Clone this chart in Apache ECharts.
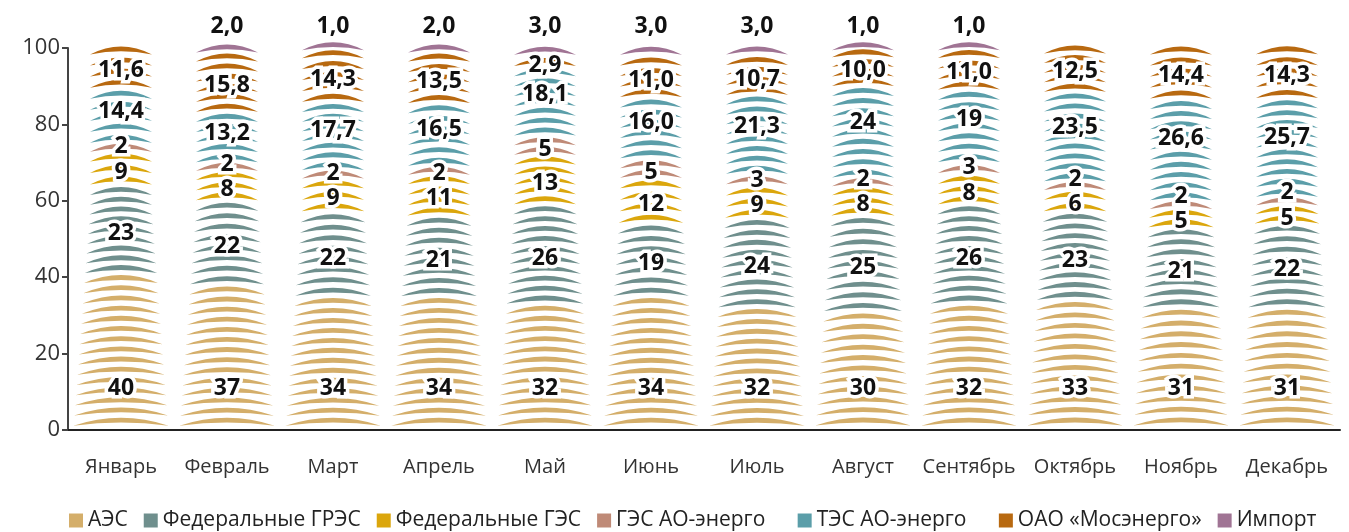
<!DOCTYPE html>
<html>
<head>
<meta charset="utf-8">
<script src="https://cdn.jsdelivr.net/npm/echarts@6/dist/echarts.min.js"></script>
<style>
  html, body { margin: 0; padding: 0; background: #fff; }
  #main { width: 1349px; height: 532px; }
</style>
</head>
<body>
<div id="main"></div>
<script>
const months = ['Январь', 'Февраль', 'Март', 'Апрель', 'Май', 'Июнь', 'Июль', 'Август', 'Сентябрь', 'Октябрь', 'Ноябрь', 'Декабрь'];
const seriesNames = ['АЭС', 'Федеральные ГРЭС', 'Федеральные ГЭС', 'ГЭС АО-энерго', 'ТЭС АО-энерго', 'ОАО «Мосэнерго»', 'Импорт'];
const colors = ['#d4ae6a', '#6f8f8d', '#dba60c', '#bf8a77', '#5b9ea9', '#b86910', '#a07494'];

// values as printed on the chart
const aes = [40, 37, 34, 34, 32, 34, 32, 30, 32, 33, 31, 31];
const fedGres = [23, 22, 22, 21, 26, 19, 24, 25, 26, 23, 21, 22];
const fedGes = [9, 8, 9, 11, 13, 12, 9, 8, 8, 6, 5, 5];
const gesAo = [2, 2, 2, 2, 5, 5, 3, 2, 3, 2, 2, 2];
const tesAo = ['14,4', '13,2', '17,7', '16,5', '18,1', '16,0', '21,3', '24', '19', '23,5', '26,6', '25,7'];
const mosenergo = ['11,6', '15,8', '14,3', '13,5', '2,9', '11,0', '10,7', '10,0', '11,0', '12,5', '14,4', '14,3'];
const importE = ['', '2,0', '1,0', '2,0', '3,0', '3,0', '3,0', '1,0', '1,0', '', '', ''];

const FONT = '"Open Sans", "Noto Sans", sans-serif';

const toNum = v => (v === '' || v == null) ? 0 : parseFloat(String(v).replace(',', '.'));
const toText = v => (v === '' || v == null) ? '' : String(v);

const raw = [aes, fedGres, fedGes, gesAo, tesAo, mosenergo, importE];
const vals = raw.map(arr => arr.map(toNum));
const texts = raw.map(arr => arr.map(toText));

// stacked bounds, scaled so every month fills 0..100
const bounds = vals.map(() => []);
months.forEach((m, i) => {
    let total = 0;
    vals.forEach(a => { total += a[i]; });
    let acc = 0;
    vals.forEach((a, s) => {
        const lo = acc * 100 / total;
        acc += a[i];
        bounds[s][i] = [lo, acc * 100 / total];
    });
});

// label positions (value units), pushed up so they don't collide
const labelPos = vals.map(() => []);
months.forEach((m, i) => {
    let prev = -100;
    for (let s = 0; s < 6; s++) {
        const [lo, hi] = bounds[s][i];
        if (hi - lo <= 0) { labelPos[s][i] = null; continue; }
        let v = (lo + hi) / 2;
        if (s === 0) v = Math.min(v, 11);
        if (s === 4) v += 0.15 * (hi - lo);
        v = Math.max(v, prev + 6.6);
        labelPos[s][i] = v;
        prev = v;
    }
});

// each segment is a column of thin arcs, narrowing toward the top
function arcRenderer(s) {
    return function (params, api) {
        const i = api.value(0);
        const [lo, hi] = bounds[s][i];
        if (hi - lo <= 0) return;
        const zero = api.coord([i, 0]);
        const cx = zero[0];
        const y0 = api.coord([i, lo])[1];
        const y1 = api.coord([i, hi])[1];
        const k = api.size([1, 0])[0] / 106;
        const unitPx = (zero[1] - api.coord([i, 100])[1]) / 100;
        const step = 2.7 * unitPx;
        const L = y0 - y1;
        const n = Math.max(1, Math.round(L / step));
        const sp = L / n;
        const sag = 8, thick = 4.8;
        const children = [];
        for (let j = 0; j < n; j++) {
            const b = y0 - j * sp - 0.42 * sp;
            const v = (zero[1] - b) / unitPx;
            const w = Math.max(62, 96 - 0.58 * v) * k;
            const x0 = cx - w / 2, x1 = cx + w / 2;
            const d = 'M' + x0 + ',' + b +
                ' Q' + cx + ',' + (b - 2 * sag) + ' ' + x1 + ',' + b +
                ' Q' + cx + ',' + (b - 2 * sag + 2 * thick) + ' ' + x0 + ',' + b + ' Z';
            children.push({
                type: 'path',
                shape: { pathData: d },
                style: { fill: colors[s] }
            });
        }
        return { type: 'group', children: children };
    };
}

function labelRenderer(params, api) {
    const i = api.value(0);
    const children = [];
    for (let s = 0; s < 7; s++) {
        const t = texts[s][i];
        if (!t) continue;
        let y;
        if (s === 6) {
            y = api.coord([i, 100])[1] - 22;
        } else {
            y = api.coord([i, labelPos[s][i]])[1];
        }
        const x = api.coord([i, 0])[0];
        children.push({
            type: 'text',
            style: {
                text: t,
                x: x,
                y: y,
                align: 'center',
                verticalAlign: 'middle',
                font: 'bold 23px ' + FONT,
                fill: '#111',
                stroke: '#fff',
                lineWidth: 7,
                lineJoin: 'round'
            }
        });
    }
    return { type: 'group', children: children };
}

const chart = echarts.init(document.getElementById('main'));

const series = seriesNames.map((name, s) => ({
    name: name,
    type: 'custom',
    silent: true,
    itemStyle: { color: colors[s] },
    renderItem: arcRenderer(s),
    data: months.map((m, i) => [i, vals[s][i]])
}));

series.push({
    type: 'custom',
    silent: true,
    z: 10,
    renderItem: labelRenderer,
    data: months.map((m, i) => [i])
});

chart.setOption({
    animation: false,
    color: colors,
    grid: { left: 68, right: 9, top: 48, bottom: 102 },
    legend: {
        data: seriesNames,
        icon: 'rect',
        itemWidth: 14,
        itemHeight: 14,
        itemGap: 16,
        left: 64,
        top: 505,
        // a bit of extra room after the two "АО-энерго" entries
        formatter: name => name.indexOf('АО-энерго') >= 0 ? name + '\u00a0\u00a0\u00a0' : name,
        textStyle: { fontSize: 21, color: '#222', fontFamily: FONT }
    },
    xAxis: {
        type: 'category',
        data: months,
        axisLine: { lineStyle: { color: '#222', width: 2 } },
        axisTick: { show: false },
        axisLabel: { fontSize: 20, color: '#333', margin: 27, fontFamily: FONT, interval: 0 }
    },
    yAxis: {
        type: 'value',
        min: 0,
        max: 100,
        interval: 20,
        axisLine: { show: true, lineStyle: { color: '#444', width: 2 } },
        axisTick: { show: true, length: 6, lineStyle: { color: '#444', width: 2 } },
        splitLine: { show: false },
        axisLabel: { fontSize: 22, color: '#333', margin: 8, fontFamily: FONT, padding: [0, 0, 6, 0] }
    },
    series: series
});
</script>
</body>
</html>
